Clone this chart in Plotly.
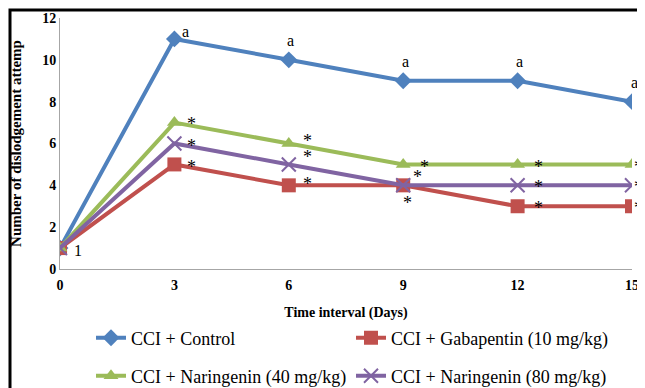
import plotly.graph_objects as go

days = [0, 3, 6, 9, 12, 15]
control = [1, 11, 10, 9, 9, 8]
gabapentin = [1, 5, 4, 4, 3, 3]
nar40 = [1, 7, 6, 5, 5, 5]
nar80 = [1, 6, 5, 4, 4, 4]

names = ["CCI + Control", "CCI + Gabapentin (10 mg/kg)",
         "CCI + Naringenin (40 mg/kg)", "CCI + Naringenin (80 mg/kg)"]
colors = ["#4F81BD", "#C0504D", "#9BBB59", "#8064A2"]
symbols = ["diamond", "square", "triangle-up", "x-thin"]
sizes = [13, 14, 13, 14]
legends = ["legend", "legend", "legend2", "legend2"]

SERIF = "Liberation Serif"

fig = go.Figure()
for vals, name, col, sym, sz, lg in zip([control, gabapentin, nar40, nar80], names, colors, symbols, sizes, legends):
    marker = dict(symbol=sym, size=sz, color=col)
    if sym == "x-thin":
        marker["line"] = dict(color=col, width=2)
    fig.add_trace(go.Scatter(x=days, y=vals, mode="lines+markers", name=name,
                             line=dict(color=col, width=4), marker=marker, legend=lg))

ann = []
afont = dict(family=SERIF, size=16, color="black")
for i, (d, v) in enumerate(zip(days, control)):
    if i == 0:
        continue
    if i == 1:
        ann.append(dict(x=d, y=v, text="a", xshift=11, yshift=7, showarrow=False, font=afont))
    else:
        ann.append(dict(x=d, y=v, text="a", xshift=2, yshift=19, showarrow=False, font=afont))
ann.append(dict(x=0, y=1, text="1", xshift=18, yshift=-2, showarrow=False, font=afont))
# (x offset, visual rise) of each significance asterisk
star_offsets = {
    "nar40": [None, (17, 3), (19, 7), (21, 1), (21, 1), (6, 1)],
    "nar80": [None, (17, 2), (19, 11), (14, 12), (21, 2), (6, 2)],
    "gaba": [None, (17, 1), (19, 5), (4, -14), (21, 2), (6, 2)],
}
for key, vals in [("nar40", nar40), ("nar80", nar80), ("gaba", gabapentin)]:
    for i, (d, v) in enumerate(zip(days, vals)):
        off = star_offsets[key][i]
        if off is None:
            continue
        ann.append(dict(x=d, y=v, text="*", xshift=off[0], yshift=off[1] - 4,
                        showarrow=False, font=dict(family=SERIF, size=18, color="black")))

# page body adds an 8px offset; figure is sized to fill the rest of the window
OFF = 8
W, H = 645 - OFF, 388 - OFF
L, R, T, B = 60 - OFF, 13, 18 - OFF, 119
pw, ph = W - L - R, H - T - B
def px(x):
    return (x - OFF - L) / pw
def py(y):
    return (H - B - (y - OFF)) / ph

shapes = [dict(type="path", xref="paper", yref="paper",
               path=f"M {px(10)} {py(420)} L {px(10)} {py(10)} L {px(680)} {py(10)}",
               line=dict(color="black", width=3))]

fig.update_layout(
    width=W, height=H,
    margin=dict(l=L, r=R, t=T, b=B, autoexpand=False),
    plot_bgcolor="white", paper_bgcolor="white",
    font=dict(family=SERIF, color="black"),
    annotations=ann, shapes=shapes,
    xaxis=dict(range=[0, 15], tickvals=days, ticktext=[str(d) for d in days],
               showgrid=False, zeroline=False, showline=True, linecolor="#A6A6A6", linewidth=1,
               tickfont=dict(family=SERIF, size=14, color="black", weight="bold"),
               ticks="", ticklen=0, ticklabelstandoff=3,
               title=dict(text="<b>Time interval (Days)</b>", font=dict(family=SERIF, size=14), standoff=15)),
    yaxis=dict(range=[0, 12], tickvals=[0, 2, 4, 6, 8, 10, 12],
               showgrid=False, zeroline=False, showline=True, linecolor="#A6A6A6", linewidth=1,
               tickfont=dict(family=SERIF, size=14, color="black", weight="bold"),
               ticks="", ticklen=0,
               title=dict(text="<b>Number of dislodgement attemp</b>", font=dict(family=SERIF, size=15), standoff=16)),
    legend=dict(orientation="h", x=px(91), y=py(338), xanchor="left", yanchor="middle",
                entrywidth=215, entrywidthmode="pixels",
                font=dict(family=SERIF, size=18, color="black"), bgcolor="rgba(0,0,0,0)"),
    legend2=dict(orientation="h", x=px(91), y=py(376), xanchor="left", yanchor="middle",
                 entrywidth=215, entrywidthmode="pixels",
                 font=dict(family=SERIF, size=18, color="black"), bgcolor="rgba(0,0,0,0)"),
    showlegend=True,
)

fig.write_html("out.html")
